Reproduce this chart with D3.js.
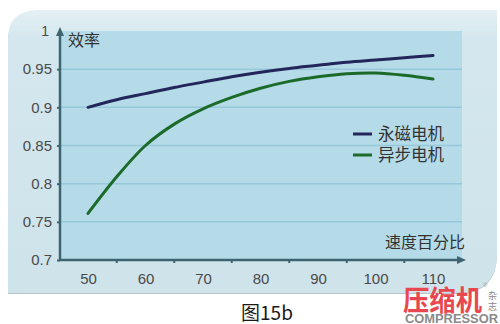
<!DOCTYPE html>
<html>
<head>
<meta charset="utf-8">
<script src="https://cdn.jsdelivr.net/npm/d3@7"></script>
<style>
  html, body { margin: 0; padding: 0; background: #fff; }
  svg { display: block; }
</style>
</head>
<body>
<svg id="chart"></svg>
<script>
// data
const speeds = [50, 60, 70, 80, 90, 100, 110];
const pmSpeeds = [50, 55, 60, 65, 70, 75, 80, 85, 90, 95, 100, 105, 110];
const pmEff = [0.900, 0.910, 0.918, 0.926, 0.933, 0.940, 0.946, 0.951, 0.955, 0.959, 0.962, 0.965, 0.968];
const asyncSpeeds = [50, 55, 60, 65, 70, 75, 80, 85, 90, 95, 100, 105, 110];
const asyncEff = [0.761, 0.809, 0.850, 0.878, 0.898, 0.913, 0.925, 0.934, 0.940, 0.944, 0.945, 0.942, 0.937];
const yTicks = [0.7, 0.75, 0.8, 0.85, 0.9, 0.95, 1];
const yTickLabels = ["0.7", "0.75", "0.8", "0.85", "0.9", "0.95", "1"];
const xMinorTicks = [55, 65, 75, 85, 95, 105];
const seriesNames = ["永磁电机", "异步电机"];
const seriesColors = ["#22265a", "#1c6a2a"];

const width = 500, height = 324;
const svg = d3.select("#chart").attr("width", width).attr("height", height);
const defs = svg.append("defs");

const grad = defs.append("linearGradient").attr("id", "panelGrad")
  .attr("x1", 0).attr("y1", 0).attr("x2", 0).attr("y2", 1);
grad.append("stop").attr("offset", "0%").attr("stop-color", "#e4f0f4");
grad.append("stop").attr("offset", "10%").attr("stop-color", "#d4e7ee");
grad.append("stop").attr("offset", "100%").attr("stop-color", "#cfe3ea");

// panel: big rounded corners top-left and bottom-right
const px0 = 8, py0 = 10, px1 = 497, py1 = 293, r = 30;
svg.append("path")
  .attr("d", `M${px0 + r},${py0 + 1} L${px1},${py0 + 1} L${px1},${py1 - 40 + 1}
     Q${px1},${py1 + 1} ${px1 - 40},${py1 + 1} L${px0},${py1 + 1} L${px0},${py0 + r + 1}
     Q${px0},${py0 + 1} ${px0 + r},${py0 + 1} Z`)
  .attr("fill", "#b9c7cc");
svg.append("path")
  .attr("d", `M${px0 + r},${py0} L${px1},${py0} L${px1},${py1 - 40}
     Q${px1},${py1} ${px1 - 40},${py1} L${px0},${py1} L${px0},${py0 + r}
     Q${px0},${py0} ${px0 + r},${py0} Z`)
  .attr("fill", "url(#panelGrad)");

// scales
const x = d3.scaleLinear().domain([50, 110]).range([88, 433]);
const y = d3.scaleLinear().domain([0.7, 1]).range([260, 31]);
const plotLeft = 60, plotRight = 462;

// plot area
svg.append("rect")
  .attr("x", plotLeft).attr("y", y(1))
  .attr("width", plotRight - plotLeft).attr("height", y(0.7) - y(1))
  .attr("fill", "#b5dbe8");

// gridlines
svg.append("g").selectAll("line")
  .data(yTicks.filter(d => d > 0.7 && d < 1))
  .join("line")
  .attr("x1", plotLeft).attr("x2", plotRight)
  .attr("y1", d => y(d)).attr("y2", d => y(d))
  .attr("stroke", "#97c7d9").attr("stroke-width", 1.5);

const axisColor = "#3d6470";
const labelColor = "#4a4a4a";

// y axis
const yAxis = d3.axisLeft(y)
  .tickValues(yTicks)
  .tickFormat((d, i) => yTickLabels[i])
  .tickSize(3).tickPadding(5);
const yg = svg.append("g").attr("transform", `translate(${plotLeft},0)`).call(yAxis);
yg.select(".domain").remove();
yg.selectAll(".tick line").attr("stroke", axisColor).attr("stroke-width", 2);
yg.selectAll(".tick text")
  .attr("fill", labelColor)
  .attr("font-family", "'Liberation Sans', Arial, sans-serif")
  .attr("font-size", "15px");
yg.selectAll(".tick").filter(d => d === 1).select("line").remove();
yg.selectAll(".tick").filter(d => d === 1).select("text").attr("x", -11).attr("font-size", "14px");

// x axis labels
const xAxis = d3.axisBottom(x).tickValues(speeds).tickSize(0).tickPadding(13)
  .tickFormat(d3.format("d"));
const xg = svg.append("g").attr("transform", `translate(0,${y(0.7)})`).call(xAxis);
xg.select(".domain").remove();
xg.selectAll(".tick text")
  .attr("fill", labelColor)
  .attr("font-family", "'Liberation Sans', Arial, sans-serif")
  .attr("font-size", "15px");

// x minor ticks
svg.append("g").selectAll("line")
  .data(xMinorTicks)
  .join("line")
  .attr("x1", d => x(d)).attr("x2", d => x(d))
  .attr("y1", y(0.7)).attr("y2", y(0.7) + 3)
  .attr("stroke", axisColor).attr("stroke-width", 2);

// axis lines with arrows
svg.append("line")
  .attr("x1", plotLeft).attr("x2", plotLeft)
  .attr("y1", y(0.7) + 1).attr("y2", y(1) + 2)
  .attr("stroke", axisColor).attr("stroke-width", 2.5);
svg.append("path")
  .attr("d", `M${plotLeft},${y(1) - 4} L${plotLeft - 4},${y(1) + 5} L${plotLeft + 4},${y(1) + 5} Z`)
  .attr("fill", axisColor);
svg.append("line")
  .attr("x1", plotLeft - 1).attr("x2", plotRight - 2)
  .attr("y1", y(0.7)).attr("y2", y(0.7))
  .attr("stroke", axisColor).attr("stroke-width", 2.5);
svg.append("path")
  .attr("d", `M${plotRight + 4},${y(0.7)} L${plotRight - 5},${y(0.7) - 4} L${plotRight - 5},${y(0.7) + 4} Z`)
  .attr("fill", axisColor);

// axis titles
const cjk = "'Noto Sans CJK SC', 'Noto Sans', sans-serif";
svg.append("text").attr("x", 68).attr("y", 46)
  .attr("font-family", cjk).attr("font-size", "16px").attr("fill", "#333")
  .text("效率");
svg.append("text").attr("x", 465).attr("y", 248).attr("text-anchor", "end")
  .attr("font-family", cjk).attr("font-size", "16px").attr("fill", "#333")
  .text("速度百分比");

// lines
const line = d3.line().x(d => x(d[0])).y(d => y(d[1])).curve(d3.curveCatmullRom.alpha(0.5));
const series = [
  d3.zip(pmSpeeds, pmEff),
  d3.zip(asyncSpeeds, asyncEff)
];
svg.append("g").selectAll("path")
  .data(series)
  .join("path")
  .attr("d", line)
  .attr("fill", "none")
  .attr("stroke", (d, i) => seriesColors[i])
  .attr("stroke-width", 3)
  .attr("stroke-linecap", "round");

// legend
const legend = svg.append("g").selectAll("g")
  .data(seriesNames)
  .join("g")
  .attr("transform", (d, i) => `translate(353,${136 + i * 21})`);
legend.append("line")
  .attr("x1", 0).attr("x2", 19).attr("y1", -2).attr("y2", -2)
  .attr("stroke", (d, i) => seriesColors[i]).attr("stroke-width", 3);
legend.append("text")
  .attr("x", 25).attr("y", 4)
  .attr("font-family", cjk).attr("font-size", "16.5px").attr("fill", "#333")
  .text(d => d);

// caption
svg.append("text").attr("x", 267).attr("y", 320).attr("text-anchor", "middle")
  .attr("font-family", cjk).attr("font-size", "19px").attr("fill", "#1a1a1a")
  .text("图15b");

// magazine logo
svg.append("text").attr("x", 403).attr("y", 311)
  .attr("font-family", cjk).attr("font-size", "28px").attr("font-weight", "bold")
  .attr("fill", "#e9474f").attr("textLength", 79).attr("lengthAdjust", "spacingAndGlyphs")
  .text("压缩机");
svg.append("text").attr("x", 483).attr("y", 287)
  .attr("font-family", "'Liberation Sans', sans-serif").attr("font-size", "6px").attr("fill", "#999")
  .text("®");
svg.append("text").attr("x", 488).attr("y", 299)
  .attr("font-family", cjk).attr("font-size", "9px").attr("fill", "#888")
  .text("杂");
svg.append("text").attr("x", 488).attr("y", 310)
  .attr("font-family", cjk).attr("font-size", "9px").attr("fill", "#888")
  .text("志");
svg.append("text").attr("x", 405).attr("y", 323)
  .attr("font-family", "'Liberation Sans', Arial, sans-serif").attr("font-size", "13px").attr("font-weight", "bold")
  .attr("fill", "#8a8a8a").attr("textLength", 93).attr("lengthAdjust", "spacingAndGlyphs")
  .text("COMPRESSOR");
</script>
</body>
</html>
